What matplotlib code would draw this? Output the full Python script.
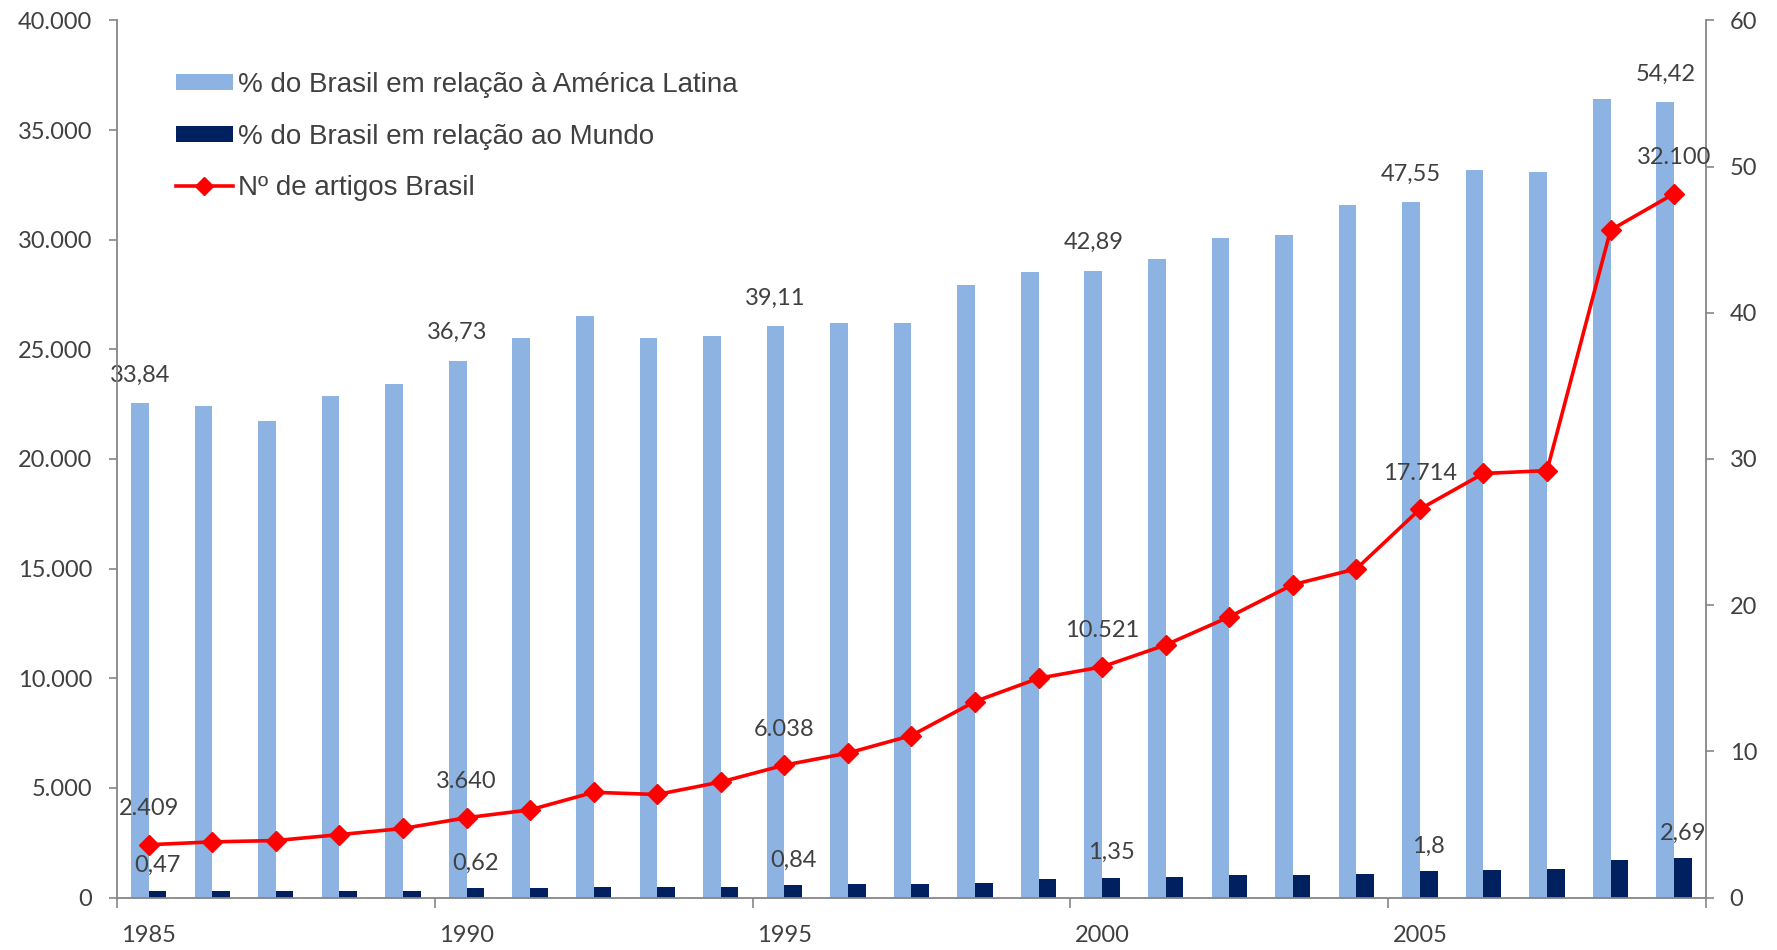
import matplotlib
matplotlib.use("Agg")
import matplotlib.pyplot as plt
from matplotlib.patches import Patch
from matplotlib.lines import Line2D
from matplotlib.ticker import FuncFormatter, FixedLocator
import numpy as np

years = list(range(1985, 2010))
pct_latam = [33.84, 33.6, 32.6, 34.3, 35.1, 36.73, 38.3, 39.8, 38.3, 38.4,
             39.11, 39.3, 39.3, 41.9, 42.8, 42.89, 43.7, 45.1, 45.3, 47.4,
             47.55, 49.8, 49.6, 54.6, 54.42]
pct_world = [0.47, 0.46, 0.46, 0.47, 0.48, 0.62, 0.65, 0.72, 0.71, 0.72,
             0.84, 0.9, 0.96, 1.03, 1.25, 1.35, 1.4, 1.55, 1.55, 1.64,
             1.8, 1.9, 1.95, 2.58, 2.69]
articles = [2409, 2540, 2600, 2870, 3150, 3640, 4000, 4800, 4700, 5270,
            6038, 6590, 7390, 8940, 10000, 10521, 11520, 12800, 14270, 14990,
            17714, 19340, 19470, 30440, 32100]
labeled_idx = [0, 5, 10, 15, 20, 24]
tick_years = [1985, 1990, 1995, 2000, 2005]

legend_labels = ["% do Brasil em relação à América Latina",
                 "% do Brasil em relação ao Mundo",
                 "Nº de artigos Brasil"]

LIGHT = "#8DB3E2"
DARK = "#002060"
RED = "#FF0000"
TXT = "#404040"
SPINE = "#868686"
NUMFONT = "Lato"
FS = 17

fig = plt.figure(figsize=(17.77, 9.5), dpi=100)
ax = fig.add_axes([0.0658, 0.0552, 0.960 - 0.0658, 0.9785 - 0.0552])
ax2 = ax.twinx()

x = np.arange(len(years))
w = 0.278
ax2.bar(x - w / 2, pct_latam, width=w, color=LIGHT, zorder=2)
ax2.bar(x + w / 2, pct_world, width=w, color=DARK, zorder=2)
ax.plot(x, articles, color=RED, lw=2.6, marker="D", ms=10, zorder=5)

ax.set_zorder(ax2.get_zorder() + 1)
ax.patch.set_visible(False)

ax.set_xlim(-0.5, len(years) - 0.5)
ax.set_ylim(0, 40000)
ax2.set_ylim(0, 60)

# y axes
ax.set_yticks(np.arange(0, 40001, 5000))
ax.yaxis.set_major_formatter(FuncFormatter(lambda v, p: f"{int(v):,}".replace(",", ".")))
ax2.set_yticks(np.arange(0, 61, 10))

# x axis: labels at category centres, tick marks at boundaries
tick_pos = [years.index(t) for t in tick_years]
ax.set_xticks(tick_pos)
ax.set_xticklabels([str(t) for t in tick_years])
ax.xaxis.set_minor_locator(FixedLocator(np.arange(-0.5, len(years), 5)))
ax.tick_params(axis="x", which="major", length=0, pad=20)
ax.tick_params(axis="x", which="minor", length=7, width=1.2, color=SPINE, direction="out")

ax.tick_params(axis="y", length=6, width=1.2, color=SPINE, pad=12)
ax2.tick_params(axis="y", length=6, width=1.2, color=SPINE, pad=11)

for a in (ax, ax2):
    for lab in a.get_xticklabels() + a.get_yticklabels():
        lab.set_fontfamily(NUMFONT)
        lab.set_fontsize(FS)
        lab.set_color(TXT)
    a.spines["top"].set_visible(False)
    for s in ("left", "right", "bottom"):
        a.spines[s].set_color(SPINE)
        a.spines[s].set_linewidth(1.3)
ax.spines["right"].set_visible(False)
ax2.spines["left"].set_visible(False)
ax2.spines["bottom"].set_visible(False)

def pct_fmt(v):
    return str(v).replace(".", ",")

for i in labeled_idx:
    ax2.annotate(pct_fmt(pct_latam[i]), (x[i] - w / 2, pct_latam[i]),
                 xytext=(0, 20), textcoords="offset points", ha="center", va="center",
                 fontsize=FS, family=NUMFONT, color=TXT, zorder=10)
    ax2.annotate(pct_fmt(pct_world[i]), (x[i] + w / 2, pct_world[i]),
                 xytext=(0, 18), textcoords="offset points", ha="center", va="center",
                 fontsize=FS, family=NUMFONT, color=TXT, zorder=10)
    ax.annotate(f"{articles[i]:,}".replace(",", "."), (x[i], articles[i]),
                xytext=(0, 26), textcoords="offset points", ha="center", va="center",
                fontsize=FS, family=NUMFONT, color=TXT, zorder=10)

handles = [Patch(facecolor=LIGHT, edgecolor="none"),
           Patch(facecolor=DARK, edgecolor="none"),
           Line2D([], [], color=RED, lw=2.6, marker="D", ms=9)]
leg = ax.legend(handles, legend_labels, loc="upper left",
                bbox_to_anchor=(0.037, 0.941), frameon=False,
                prop={"family": "Liberation Sans", "size": 20},
                handlelength=2.05, handleheight=0.5, handletextpad=0.2,
                labelspacing=0.92, borderpad=0, borderaxespad=0)
for t in leg.get_texts():
    t.set_color(TXT)

fig.savefig("out.png", dpi=100)
